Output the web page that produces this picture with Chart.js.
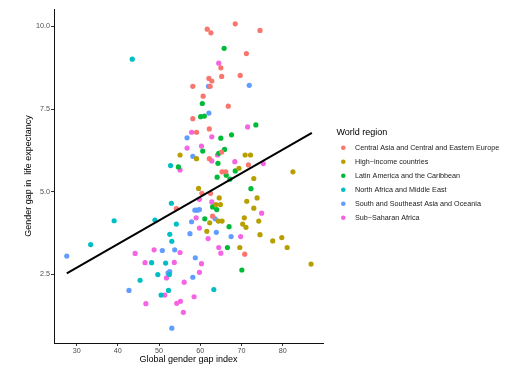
<!DOCTYPE html>
<html>
<head>
<meta charset="utf-8">
<script src="https://cdn.jsdelivr.net/npm/chart.js@4/dist/chart.umd.min.js"></script>
<style>
  html, body { margin: 0; padding: 0; background: #fff; }
  #wrap { width: 510px; height: 370px; }
</style>
</head>
<body>
<div id="wrap"><canvas id="gapChart" width="510" height="370"></canvas></div>
<script>
  // Dữ liệu: [chỉ số khoảng cách giới, chênh lệch tuổi thọ]
  const REGIONS = [
    'Central Asia and Central and Eastern Europe',
    'High\u2212income countries',
    'Latin America and the Caribbean',
    'North Africa and Middle East',
    'South and Southeast Asia and Oceania',
    'Sub\u2212Saharan Africa'
  ];
  const COLORS = ['#F8766D', '#B79F00', '#00BA38', '#00BFC4', '#619CFF', '#F564E3'];

  const centralAsia = [
    [68.5, 10.08], [61.7, 9.92], [62.6, 9.81], [74.5, 9.88], [71.2, 9.18], [65.0, 8.75],
    [62.1, 8.43], [62.8, 8.35], [65.2, 8.49], [69.7, 8.52], [58.2, 8.19], [62.4, 8.19],
    [60.7, 7.89], [66.8, 7.59], [58.2, 7.21], [62.2, 6.90], [59.1, 6.80], [65.2, 6.20],
    [62.2, 6.00], [71.7, 5.81], [65.3, 5.60], [66.2, 5.60], [60.4, 4.95], [62.5, 4.95],
    [63.0, 4.26], [70.8, 3.11], [54.2, 4.49]
  ];
  const highIncome = [
    [55.1, 6.11], [59.1, 6.00], [70.9, 6.11], [72.2, 6.11], [69.4, 5.71], [82.5, 5.60],
    [73.0, 5.40], [59.6, 5.10], [64.6, 4.81], [71.3, 4.71], [73.8, 4.81], [63.8, 4.61],
    [64.9, 4.61], [73.0, 4.50], [70.7, 4.21], [64.4, 4.11], [65.3, 4.11], [74.2, 4.11],
    [70.3, 4.02], [71.1, 3.92], [62.3, 4.06], [61.6, 3.80], [74.5, 3.70], [77.6, 3.51],
    [79.8, 3.61], [81.1, 3.31], [69.6, 3.31], [86.9, 2.81]
  ];
  const latinAmerica = [
    [65.8, 9.34], [60.5, 7.67], [60.1, 7.27], [61.0, 7.29], [73.5, 7.02], [67.6, 6.72],
    [65.0, 6.62], [60.6, 6.23], [65.9, 6.28], [64.5, 6.16], [64.3, 5.86], [68.5, 5.63],
    [66.3, 5.50], [64.1, 5.44], [67.2, 5.38], [72.3, 5.09], [63.0, 4.54], [64.0, 4.46],
    [61.1, 4.18], [67.0, 3.94], [66.6, 3.31], [70.1, 2.63], [54.7, 5.75]
  ];
  const northAfrica = [
    [43.5, 9.01], [52.8, 5.79], [53.0, 4.65], [39.1, 4.12], [49.0, 4.14], [54.2, 4.02],
    [52.6, 3.71], [53.1, 3.50], [33.4, 3.40], [48.2, 2.85], [51.6, 2.84], [49.7, 2.49],
    [52.5, 2.49], [45.4, 2.32], [52.3, 2.01], [50.5, 1.87], [63.3, 2.04]
  ];
  const southAsia = [
    [71.9, 8.22], [62.0, 8.19], [62.1, 7.38], [56.8, 6.63], [58.2, 6.07], [58.7, 4.44],
    [59.3, 4.44], [59.8, 4.46], [63.6, 4.18], [57.9, 4.09], [57.5, 3.73], [63.9, 3.77],
    [67.5, 3.64], [58.8, 3.00], [58.2, 2.41], [27.6, 3.05], [50.8, 3.22], [53.8, 3.24],
    [52.2, 2.54], [52.6, 2.58], [42.7, 2.01], [53.1, 0.87]
  ];
  const subSaharan = [
    [64.5, 8.89], [71.5, 6.96], [57.9, 6.80], [62.8, 6.66], [56.8, 6.32], [60.3, 6.38],
    [64.2, 6.11], [62.8, 5.93], [68.4, 5.91], [75.3, 5.85], [55.1, 5.66], [59.8, 4.77],
    [62.8, 4.69], [74.9, 4.35], [59.0, 4.21], [59.8, 3.90], [61.9, 3.58], [69.8, 3.64],
    [64.5, 3.31], [65.0, 3.14], [55.1, 3.16], [60.3, 2.82], [59.8, 2.56], [56.1, 2.26],
    [58.5, 1.82], [55.2, 1.68], [54.3, 1.62], [55.9, 1.35], [44.2, 3.13], [48.8, 3.24],
    [46.6, 2.85], [53.7, 2.86], [51.8, 2.39], [51.4, 1.87], [46.8, 1.61]
  ];
  const REGION_POINTS = [centralAsia, highIncome, latinAmerica, northAfrica, southAsia, subSaharan];

  // Đường hồi quy (hai đầu mút)
  const trendLine = [[27.6, 2.53], [87.1, 6.78]];

  const X_TICKS = [30, 40, 50, 60, 70, 80];
  const Y_TICKS = [2.5, 5.0, 7.5, 10.0];

  const FONT = 'Liberation Sans, Arial, Helvetica, sans-serif';
  const toXY = arr => arr.map(p => ({ x: p[0], y: p[1] }));

  // Chú thích vẽ tay bên phải
  const legendPlugin = {
    id: 'regionLegend',
    afterDraw(chart) {
      const ctx = chart.ctx;
      ctx.save();
      ctx.fillStyle = '#000';
      ctx.textAlign = 'left';
      ctx.textBaseline = 'middle';
      ctx.font = '9px ' + FONT;
      ctx.fillText('World region', 336.5, 132.5);
      ctx.font = '7.2px ' + FONT;
      REGIONS.forEach((name, i) => {
        const y = 147.7 + i * 14;
        ctx.beginPath();
        ctx.fillStyle = COLORS[i];
        ctx.arc(343.3, y, 2.3, 0, Math.PI * 2);
        ctx.fill();
        ctx.fillStyle = '#1a1a1a';
        ctx.fillText(name, 355, y);
      });
      ctx.restore();
    }
  };

  const datasets = [{
    type: 'line',
    label: 'trend',
    data: toXY(trendLine),
    borderColor: '#000',
    borderWidth: 2,
    pointRadius: 0,
    fill: false,
    order: -1
  }];
  REGIONS.forEach((name, i) => {
    datasets.push({
      type: 'scatter',
      label: name,
      data: toXY(REGION_POINTS[i]),
      backgroundColor: COLORS[i],
      borderWidth: 0,
      pointRadius: 2.6,
      pointHoverRadius: 2.6
    });
  });

  const axisTick = { display: true, drawOnChartArea: false, drawTicks: true, tickLength: 3, color: '#333' };

  new Chart(document.getElementById('gapChart').getContext('2d'), {
    type: 'scatter',
    data: { datasets },
    plugins: [legendPlugin],
    options: {
      responsive: false,
      animation: false,
      layout: { padding: { top: 9, right: 187, bottom: 0, left: 0 } },
      plugins: {
        legend: { display: false },
        tooltip: { enabled: false }
      },
      scales: {
        x: {
          type: 'linear',
          min: 24.5,
          max: 89.8,
          grid: axisTick,
          border: { display: true, color: '#111', width: 1 },
          afterFit: s => { s.height = 27; },
          afterBuildTicks: s => { s.ticks = X_TICKS.map(v => ({ value: v })); },
          ticks: {
            padding: 1,
            color: '#4d4d4d',
            font: { family: FONT, size: 7.2 },
            maxRotation: 0,
            callback: v => String(v)
          },
          title: {
            display: true,
            text: 'Global gender gap index',
            color: '#000',
            font: { family: FONT, size: 9 },
            padding: { top: 0, bottom: 4.6 }
          }
        },
        y: {
          type: 'linear',
          min: 0.42,
          max: 10.53,
          grid: axisTick,
          border: { display: true, color: '#111', width: 1 },
          afterFit: s => { s.width = 54; },
          afterBuildTicks: s => { s.ticks = Y_TICKS.map(v => ({ value: v })); },
          ticks: {
            padding: 1,
            color: '#4d4d4d',
            font: { family: FONT, size: 7.2 },
            callback: v => Number(v).toFixed(1)
          },
          title: {
            display: true,
            text: 'Gender gap in  life expectancy',
            color: '#000',
            font: { family: FONT, size: 9 },
            padding: { top: 23.6, bottom: 0 }
          }
        }
      }
    }
  });
</script>
</body>
</html>
